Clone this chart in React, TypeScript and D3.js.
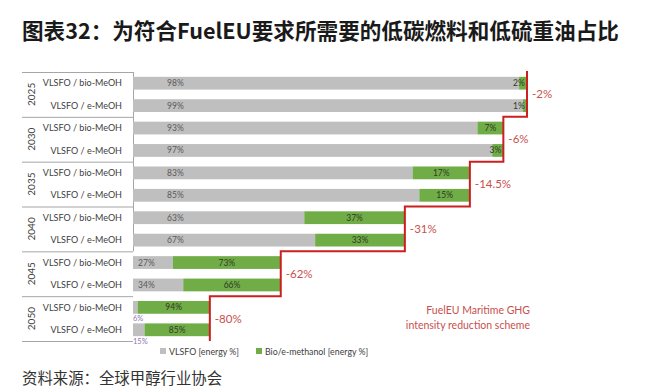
import React from "react";
import { scaleBand, scaleLinear } from "d3";

// data
const years = ["2025", "2030", "2035", "2040", "2045", "2050"];
const fuels = ["VLSFO / bio-MeOH", "VLSFO / e-MeOH"];
const vlsfoShare = [98, 99, 93, 97, 83, 85, 63, 67, 27, 34, 6, 15];
const methanolShare = [2, 1, 7, 3, 17, 15, 37, 33, 73, 66, 94, 85];
// bar length left under the reduction step (% of full scale)
const stepLevel = [100, 94, 85.5, 69, 37.5, 19.5];
const reductionLabels = ["-2%", "-6%", "-14.5%", "-31%", "-62%", "-80%"];
const legendLabels = ["VLSFO [energy %]", "Bio/e-methanol [energy %]"];

const GRAY = "#bfbfbf";
const GREEN = "#70ad47";
const RED = "#cc1f1f";
const RED_TEXT = "#c8504d";
const FONT = "Lato, 'Noto Sans', sans-serif";

export default function App() {
  const width = 654;
  const height = 390;
  const top = 72;
  const bottom = 341;
  const left = 133;
  const right = 527;

  const rows = years.flatMap((y) => fuels.map((f) => `${y}|${f}`));

  const yScale = scaleBand<string>()
    .domain(rows)
    .range([top, bottom])
    .paddingInner(0.43)
    .paddingOuter(0.215);
  const groupScale = scaleBand<string>().domain(years).range([top, bottom]);
  const xScale = scaleLinear().domain([0, 100]).range([left, right]);

  const bars = rows.map((key, i) => {
    const g = Math.floor(i / fuels.length);
    const total = stepLevel[g];
    const x0 = xScale(0);
    const xMid = xScale((vlsfoShare[i] * total) / 100);
    const x1 = xScale(total);
    return { key, i, g, x0, xMid, x1, y: yScale(key)!, h: yScale.bandwidth() };
  });

  // staircase of the reduction scheme
  let path = "";
  years.forEach((y, g) => {
    const x = xScale(stepLevel[g]);
    const y0 = g === 0 ? groupScale(y)! - 1 : groupScale(y)!;
    const y1 = groupScale(y)! + groupScale.bandwidth();
    path += g === 0 ? `M${x},${y0}` : `L${x},${y0}`;
    path += `L${x},${y1}`;
  });

  return (
    <svg
      width={width}
      height={height}
      style={{ position: "absolute", left: 0, top: 0, background: "#fff" }}
    >
      <text
        x={22}
        y={39}
        fontFamily="'Noto Sans CJK SC', sans-serif"
        fontWeight={700}
        fontSize={21.6}
        fill="#1a1a1a"
      >
        图表32：为符合FuelEU要求所需要的低碳燃料和低硫重油占比
      </text>

      {/* category axis */}
      <g stroke="#a6a6a6" strokeWidth={1}>
        {years.map((y) => (
          <line key={y} x1={22} x2={left} y1={groupScale(y)! + 0.5} y2={groupScale(y)! + 0.5} />
        ))}
        <line x1={22} x2={left} y1={bottom + 0.5} y2={bottom + 0.5} />
        <line x1={left + 0.5} x2={left + 0.5} y1={top} y2={groupScale("2045")!} />
      </g>
      {years.map((y) => (
        <text
          key={y}
          transform={`translate(35,${groupScale(y)! + groupScale.bandwidth() / 2}) rotate(-90)`}
          textAnchor="middle"
          fontFamily={FONT}
          fontSize={10}
          fill="#404040"
        >
          {y}
        </text>
      ))}
      {rows.map((key) => (
        <text
          key={key}
          x={122}
          y={yScale(key)! + yScale.bandwidth() / 2}
          dy="0.35em"
          textAnchor="end"
          fontFamily={FONT}
          fontSize={9}
          fill="#404040"
        >
          {key.split("|")[1]}
        </text>
      ))}

      {/* bars */}
      {bars.map((b) => (
        <g key={b.key}>
          <rect x={b.x0} y={b.y} width={b.xMid - b.x0} height={b.h} fill={GRAY} />
          <rect x={b.xMid} y={b.y} width={b.x1 - b.xMid} height={b.h} fill={GREEN} />
        </g>
      ))}

      {/* value labels */}
      {bars.map((b) => {
        const grayW = b.xMid - b.x0;
        const cy = b.y + b.h / 2;
        const small = grayW < 20;
        const gx = small ? b.x0 : b.x0 + (grayW > 100 ? 34 : 5);
        const gy = small ? b.y + b.h + 5 : cy;
        const greenCx = Math.min((b.xMid + b.x1) / 2, b.x1 - 8);
        return (
          <g key={b.key} fontFamily={FONT} fontSize={small ? 7.5 : 8.5}>
            <text
              x={gx}
              y={gy}
              dy="0.35em"
              fill={small ? "#9274b0" : "#595959"}
            >
              {vlsfoShare[b.i]}%
            </text>
            <text
              x={greenCx}
              y={cy}
              dy="0.35em"
              textAnchor="middle"
              fontSize={8.5}
              fill="#2f3a25"
            >
              {methanolShare[b.i]}%
            </text>
          </g>
        );
      })}

      <path d={path} fill="none" stroke={RED} strokeWidth={2} />
      {years.map((y, g) => (
        <text
          key={y}
          x={xScale(stepLevel[g]) + 5}
          y={groupScale(y)! + groupScale.bandwidth() / 2}
          dy="0.35em"
          fontFamily={FONT}
          fontSize={11.5}
          fill={RED_TEXT}
        >
          {reductionLabels[g]}
        </text>
      ))}

      <text
        x={530}
        textAnchor="end"
        fontFamily={FONT}
        fontSize={10.5}
        fill={RED_TEXT}
      >
        <tspan x={530} y={314}>FuelEU Maritime GHG</tspan>
        <tspan x={530} y={329}>intensity reduction scheme</tspan>
      </text>

      {/* legend */}
      <g fontFamily={FONT} fontSize={8.8} fill="#404040">
        <rect x={160} y={348} width={6} height={6} fill={GRAY} />
        <text x={169} y={354.5}>{legendLabels[0]}</text>
        <rect x={256} y={348} width={6} height={6} fill={GREEN} />
        <text x={265} y={354.5}>{legendLabels[1]}</text>
      </g>

      <text
        x={22}
        y={384}
        fontFamily="'Noto Sans CJK SC', sans-serif"
        fontSize={15.4}
        fill="#333"
      >
        资料来源：全球甲醇行业协会
      </text>
    </svg>
  );
}
